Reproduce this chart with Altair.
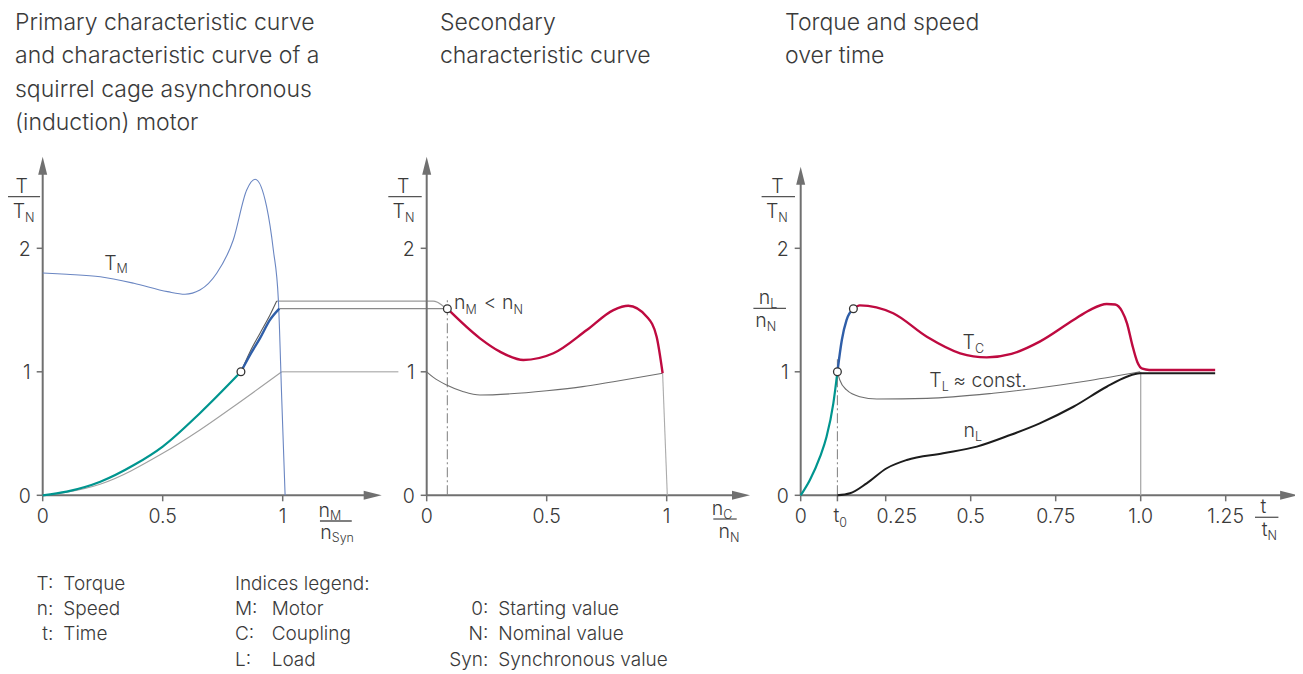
import altair as alt
import pandas as pd

# ---------------- values ----------------
# Panel 1: x = n_M / n_Syn, y = T / T_N
p1_motor_x = [0.0, 0.1, 0.24, 0.38, 0.52, 0.593, 0.655, 0.725, 0.794, 0.85, 0.885, 0.933, 0.961, 0.982, 0.996, 1.01]
p1_motor_y = [1.80, 1.79, 1.77, 1.717, 1.649, 1.628, 1.662, 1.798, 2.067, 2.472, 2.559, 2.337, 1.986, 1.58, 0.78, 0.0]
p1_start_x = [0.0, 0.1, 0.24, 0.38, 0.5, 0.655, 0.826]
p1_start_y = [0.0, 0.03, 0.11, 0.245, 0.395, 0.665, 1.0]
p1_run_x = [0.826, 0.864, 0.905, 0.947, 0.986]
p1_run_y = [1.0, 1.136, 1.271, 1.42, 1.511]
p1_upper_x = [0.826, 0.864, 0.905, 0.947, 0.975]
p1_upper_y = [1.0, 1.163, 1.311, 1.46, 1.573]
p1_load_x = [0.0, 0.1, 0.239, 0.5, 0.655, 0.794, 0.996]
p1_load_y = [0.0, 0.025, 0.09, 0.34, 0.529, 0.717, 1.0]
p1_operating = [0.826, 1.0]
# connection lines from panel 1 to panel 2 (panel-1 units)
link_top_x = [0.975, 1.627, 1.645, 1.666, 1.686]
link_top_y = [1.573, 1.573, 1.563, 1.535, 1.511]
link_mid_x = [0.986, 1.686]
link_mid_y = [1.511, 1.511]
link_one_x = [0.996, 1.482]
link_one_y = [1.0, 1.0]

# Panel 2: x = n_C / n_N
p2_coupling_x = [0.086, 0.222, 0.305, 0.403, 0.528, 0.667, 0.778, 0.84, 0.917, 0.958, 0.983]
p2_coupling_y = [1.511, 1.271, 1.163, 1.096, 1.150, 1.338, 1.50, 1.535, 1.446, 1.284, 0.988]
p2_load_x = [0.0, 0.028, 0.083, 0.153, 0.222, 0.35, 0.5, 0.65, 0.778, 0.983]
p2_load_y = [1.0, 0.955, 0.893, 0.839, 0.812, 0.822, 0.847, 0.88, 0.92, 0.988]
p2_drop_x = [0.983, 1.0025]
p2_drop_y = [0.988, 0.0]
p2_operating = [0.086, 1.511]
p2_marker_top = 1.595

# Panel 3: x = t / t_N
t0 = 0.108
p3_start_x = [0.0, 0.027, 0.057, 0.076, 0.096, 0.108]
p3_start_y = [0.0, 0.124, 0.313, 0.474, 0.745, 1.0]
p3_run_x = [0.108, 0.121, 0.135, 0.155]
p3_run_y = [1.0, 1.258, 1.42, 1.511]
p3_coupling_x = [0.155, 0.174, 0.272, 0.371, 0.469, 0.547, 0.62, 0.703, 0.802, 0.85, 0.9, 0.925, 0.945, 0.96, 0.975, 0.99, 1.005, 1.025, 1.219]
p3_coupling_y = [1.511, 1.538, 1.474, 1.284, 1.15, 1.117, 1.145, 1.244, 1.419, 1.50, 1.549, 1.545, 1.49, 1.39, 1.22, 1.08, 1.025, 1.015, 1.015]
p3_loadtorque_x = [0.108, 0.115, 0.135, 0.174, 0.224, 0.371, 0.566, 0.763, 0.851, 0.998]
p3_loadtorque_y = [1.0, 0.934, 0.853, 0.798, 0.78, 0.785, 0.826, 0.893, 0.93, 1.0]
p3_speed_x = [0.108, 0.145, 0.194, 0.253, 0.312, 0.419, 0.518, 0.616, 0.703, 0.802, 0.9, 0.959, 0.998, 1.219]
p3_speed_y = [0.0, 0.016, 0.097, 0.219, 0.286, 0.34, 0.394, 0.488, 0.583, 0.717, 0.879, 0.96, 0.988, 0.988]
p3_points_x = [0.108, 0.155]
p3_points_y = [1.0, 1.511]
p3_t0_marker_top = 1.12

# axes
y_ticks = [0, 1, 2]
y_tick_labels = ["0", "1", "2"]
p1_x_ticks = [0, 0.5, 1]
p1_x_labels = ["0", "0.5", "1"]
p2_x_ticks = [0, 0.5, 1]
p2_x_labels = ["0", "0.5", "1"]
p3_x_ticks = [0, 0.25, 0.5, 0.75, 1.0, 1.25]
p3_x_labels = ["0", "0.25", "0.5", "0.75", "1.0", "1.25"]
axis_y_tip = {1: 2.742, 2: 2.742, 3: 2.66}
axis_x_tip = {1: 1.4125, 2: 1.347, 3: 1.463}

titles = {
    1: ["Primary characteristic curve", "and characteristic curve of a",
        "squirrel cage asynchronous", "(induction) motor"],
    2: ["Secondary", "characteristic curve"],
    3: ["Torque and speed", "over time"],
}
legend_col1_keys = ["T:", "n:", "t:"]
legend_col1_vals = ["Torque", "Speed", "Time"]
legend_col2_head = "Indices legend:"
legend_col2_keys = ["M:", "C:", "L:"]
legend_col2_vals = ["Motor", "Coupling", "Load"]
legend_col3_keys = ["0:", "N:", "Syn:"]
legend_col3_vals = ["Starting value", "Nominal value", "Synchronous value"]

# ---------------- layout / style ----------------
W, H = 1287, 666
PAGE = 8
ORIGIN = {1: (42.7, 240.0), 2: (426.7, 240.0), 3: (800.7, 340.0)}
Y_ZERO, Y_PPU = 495.3, 123.5
FONT = "Inter"
FW = 300
TEXT = "#3a3a3a"
AXIS = "#707070"
TEAL = "#00958f"
BLUE = "#2f5ea8"
BLUE_THIN = "#6a86c2"
RED = "#be0a40"
BLACK = "#1c1c1c"
LIGHT = "#ababab"
TITLE_SIZE = 23
LEG = 19
NUM = 19.5
SUB = 12.5
TITLE_ROWS = [3.7636, 3.4964, 3.2291, 2.9619]


def xsc(p):
    ox, k = ORIGIN[p]
    return alt.Scale(domain=[(PAGE - ox) / k, (PAGE + W - ox) / k], nice=False, zero=False)


YS = alt.Scale(domain=[(Y_ZERO - PAGE - H) / Y_PPU, (Y_ZERO - PAGE) / Y_PPU], nice=False, zero=False)


def X(p):
    return alt.X("x:Q", scale=xsc(p), axis=None)


def Y():
    return alt.Y("y:Q", scale=YS, axis=None)


def curve(p, xv, yv, color, width, interp="monotone", dash=None):
    df = pd.DataFrame({"x": xv, "y": yv, "i": list(range(len(xv)))})
    props = dict(color=color, strokeWidth=width, interpolate=interp, clip=False)
    if dash:
        props["strokeDash"] = dash
    return alt.Chart(df).mark_line(**props).encode(x=X(p), y=Y(), order="i:Q")


def segs(p, rows, color, width, dash=None, **off):
    df = pd.DataFrame(rows, columns=["x", "y", "x2", "y2"])
    props = dict(color=color, strokeWidth=width)
    if dash:
        props["strokeDash"] = dash
    props.update(off)
    return alt.Chart(df).mark_rule(**props).encode(x=X(p), y=Y(), x2="x2:Q", y2="y2:Q")


def texts(p, rows, size=NUM, align="center", baseline="alphabetic", dx=0, dy=0, color=TEXT):
    df = pd.DataFrame(rows, columns=["x", "y", "t"])
    return alt.Chart(df).mark_text(
        align=align, baseline=baseline, dx=dx, dy=dy, fontSize=size, font=FONT,
        fontWeight=FW, color=color
    ).encode(x=X(p), y=Y(), text="t:N")


UP = "M0,0L0.5,2L-0.5,2Z"
RIGHT = "M0,0L-2,0.5L-2,-0.5Z"


def arrow(p, x, y, shape):
    df = pd.DataFrame({"x": [x], "y": [y]})
    return alt.Chart(df).mark_point(
        shape=shape, size=324, filled=True, color=AXIS, opacity=1, strokeWidth=0
    ).encode(x=X(p), y=Y())


def dots(p, xv, yv):
    df = pd.DataFrame({"x": xv, "y": yv})
    return alt.Chart(df).mark_point(
        shape="circle", size=60, filled=True, fill="white", stroke="#333333",
        strokeWidth=1.3, opacity=1
    ).encode(x=X(p), y=Y())


def axes(p, xticks, xlabels, label_skip=()):
    return [
        segs(p, [(0, 0, 0, axis_y_tip[p] - 0.1)], AXIS, 2),
        segs(p, [(0, 0, axis_x_tip[p] - 0.05, 0)], AXIS, 2),
        arrow(p, 0, axis_y_tip[p], UP),
        arrow(p, axis_x_tip[p], 0, RIGHT),
        segs(p, [(0, v, 0, v) for v in y_ticks], AXIS, 1.5, x2Offset=-6),
        segs(p, [(v, 0, v, 0) for v in xticks], AXIS, 1.5, y2Offset=6),
        texts(p, [(0, v, s) for v, s in zip(y_ticks, y_tick_labels)], size=NUM, align="right", dx=-12, dy=7.5),
        texts(p, [(v, 0, s) for v, s in zip(xticks, xlabels) if s not in label_skip], size=NUM, dy=27.4),
    ]


def fraction(p, xc, yl, hw, num, num_sub, num_dx, den, den_sub, den_dx, den_drop):
    out = [segs(p, [(xc, yl, xc, yl)], "#555555", 1.3, xOffset=-hw, x2Offset=hw)]
    if num_sub:
        out.append(texts(p, [(xc, yl, num)], size=NUM, align="right", dx=num_dx, dy=-4))
        out.append(texts(p, [(xc, yl, num_sub)], size=SUB, align="left", dx=num_dx, dy=-0.5))
    else:
        out.append(texts(p, [(xc, yl, num)], size=NUM, align="center", dx=num_dx, dy=-4))
    out.append(texts(p, [(xc, yl, den)], size=NUM, align="right", dx=den_dx, dy=den_drop))
    out.append(texts(p, [(xc, yl, den_sub)], size=SUB, align="left", dx=den_dx, dy=den_drop + 3.5))
    return out


def sub_label(p, x, y, main, sub, sub_dy=3.5):
    return [
        texts(p, [(x, y, main)], size=NUM, align="right"),
        texts(p, [(x, y, sub)], size=SUB, align="left", dy=sub_dy),
    ]


DASHDOT = [10, 3, 2, 3]

# ---------------- panel 1 ----------------
L1 = []
L1 += axes(1, p1_x_ticks, p1_x_labels)
L1 += [
    curve(1, link_top_x, link_top_y, "#9a9a9a", 1.2),
    curve(1, link_mid_x, link_mid_y, "#8a8a8a", 1.2, interp="linear"),
    curve(1, link_one_x, link_one_y, "#bdbdbd", 1.4, interp="linear"),
    curve(1, p1_load_x, p1_load_y, "#a0a0a0", 1.1),
    curve(1, p1_upper_x, p1_upper_y, "#5a5a5a", 1.1),
    curve(1, p1_motor_x, p1_motor_y, BLUE_THIN, 1.1),
    curve(1, p1_start_x, p1_start_y, TEAL, 2.2),
    curve(1, p1_run_x, p1_run_y, BLUE, 2.4),
    dots(1, [p1_operating[0]], [p1_operating[1]]),
]
L1 += fraction(1, -0.0806, 2.418, 16.7, "T", None, -1.6, "T", "N", 1.7, 21.5)
L1 += fraction(1, 1.2215, -0.208, 15.9, "n", "M", -5.8, "n", "Syn", -4.1, 18)
L1 += sub_label(1, 0.308, 1.823, "T", "M", 3)
# titles
L1.append(texts(1, [(-0.1154, y, s) for y, s in zip(TITLE_ROWS, titles[1])],
                size=TITLE_SIZE, align="left"))
# legend
rows_y = [-0.766, -0.968, -1.171, -1.384]
L1.append(texts(1, [(0.044, y, s) for y, s in zip(rows_y, legend_col1_keys)], size=LEG, align="right"))
L1.append(texts(1, [(0.086, y, s) for y, s in zip(rows_y, legend_col1_vals)], size=LEG, align="left"))
L1.append(texts(1, [(0.801, rows_y[0], legend_col2_head)], size=LEG, align="left"))
L1.append(texts(1, [(0.801, y, s) for y, s in zip(rows_y[1:], legend_col2_keys)], size=LEG, align="left"))
L1.append(texts(1, [(0.954, y, s) for y, s in zip(rows_y[1:], legend_col2_vals)], size=LEG, align="left"))
L1.append(texts(1, [(1.857, y, s) for y, s in zip(rows_y[1:], legend_col3_keys)], size=LEG, align="right"))
L1.append(texts(1, [(1.898, y, s) for y, s in zip(rows_y[1:], legend_col3_vals)], size=LEG, align="left"))

# ---------------- panel 2 ----------------
L2 = []
L2 += axes(2, p2_x_ticks, p2_x_labels)
L2 += [
    segs(2, [(p2_operating[0], 0, p2_operating[0], p2_marker_top)], "#8a8a8a", 1.1, dash=DASHDOT),
    curve(2, p2_load_x, p2_load_y, "#6e6e6e", 1.1),
    curve(2, p2_drop_x, p2_drop_y, LIGHT, 1.1, interp="linear"),
    curve(2, p2_coupling_x, p2_coupling_y, RED, 2.4),
    dots(2, [p2_operating[0]], [p2_operating[1]]),
]
L2 += fraction(2, -0.0904, 2.418, 16.7, "T", None, -1.7, "T", "N", 0, 21.5)
L2 += fraction(2, 1.243, -0.192, 11.7, "n", "C", -1.7, "n", "N", 5, 19)
L2 += [
    texts(2, [(0.1617, 1.506, "n")], size=NUM, align="right"),
    texts(2, [(0.1617, 1.506, "M")], size=SUB, align="left", dy=5),
    texts(2, [(0.3617, 1.506, "< n")], size=NUM, align="right"),
    texts(2, [(0.3617, 1.506, "N")], size=SUB, align="left", dy=5),
]
L2.append(texts(2, [(0.055, y, s) for y, s in zip(TITLE_ROWS[:2], titles[2])], size=TITLE_SIZE, align="left"))

# ---------------- panel 3 ----------------
L3 = []
L3 += axes(3, p3_x_ticks, p3_x_labels, label_skip=("0.25",))
L3 += [
    segs(3, [(t0, 0, t0, 0)], AXIS, 1.5, y2Offset=6),
    texts(3, [(0.25, 0, "0.25")], size=NUM, dx=11, dy=27.4),
    segs(3, [(t0, 0, t0, p3_t0_marker_top)], "#8a8a8a", 1.1, dash=DASHDOT),
    segs(3, [(1.0, 0, 1.0, 1.0)], LIGHT, 1.3),
    curve(3, p3_loadtorque_x, p3_loadtorque_y, "#6e6e6e", 1.1),
    curve(3, p3_speed_x, p3_speed_y, BLACK, 2.0),
    curve(3, p3_coupling_x, p3_coupling_y, RED, 2.4),
    curve(3, p3_start_x, p3_start_y, TEAL, 2.2),
    curve(3, p3_run_x, p3_run_y, BLUE, 2.4),
    dots(3, p3_points_x, p3_points_y),
]
L3 += sub_label(3, 0.1135, -0.2138, "t", "0", 5)
L3 += fraction(3, -0.0659, 2.418, 16.7, "T", None, -0.8, "T", "N", 0, 21.5)
L3 += fraction(3, -0.0912, 1.514, 16.3, "n", "L", 0.6, "n", "N", -3, 19)
L3 += fraction(3, 1.3706, -0.178, 11.7, "t", None, -3.4, "t", "N", 0.8, 19)
L3 += sub_label(3, 0.5126, 1.182, "T", "C", 3.5)
L3 += sub_label(3, 0.4147, 0.8745, "T", "L", 3.5)
L3.append(texts(3, [(0.4488, 0.8745, "≈ const.")], size=NUM, align="left"))
L3 += sub_label(3, 0.5126, 0.4696, "n", "L", 4)
L3.append(texts(3, [(-0.046, y, s) for y, s in zip(TITLE_ROWS[:2], titles[3])], size=TITLE_SIZE, align="left"))

chart = (
    alt.layer(alt.layer(*L1), alt.layer(*L2), alt.layer(*L3))
    .resolve_scale(x="independent")
    .properties(width=W, height=H, padding=0, background="white",
                autosize=alt.AutoSizeParams(type="none"))
    .configure_view(stroke=None)
)

chart.save("out.html", embed_options={"renderer": "svg", "actions": False})
